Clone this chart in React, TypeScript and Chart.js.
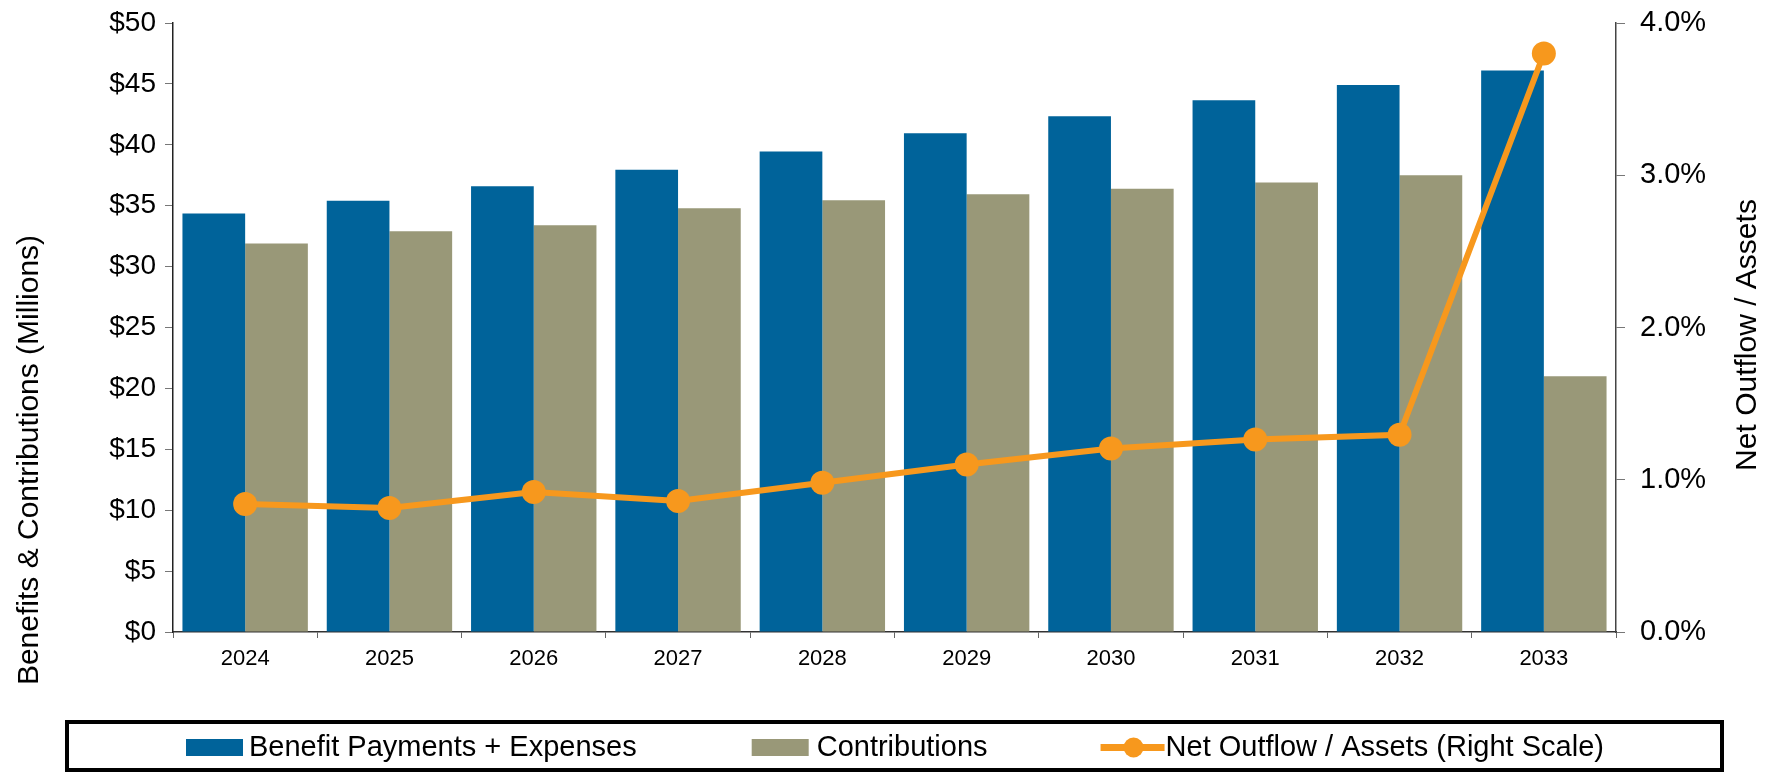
import React, { useEffect, useRef } from "react";
import { Chart, registerables } from "chart.js";

Chart.register(...registerables);

const years = ["2024", "2025", "2026", "2027", "2028", "2029", "2030", "2031", "2032", "2033"];
const benefitPayments = [34.35, 35.4, 36.6, 37.95, 39.45, 40.95, 42.35, 43.65, 44.9, 46.1];
const contributions = [31.9, 32.9, 33.4, 34.8, 35.45, 35.95, 36.4, 36.9, 37.5, 21.0];
const netOutflowPct = [0.84, 0.815, 0.92, 0.86, 0.98, 1.1, 1.205, 1.265, 1.295, 3.8];

const leftTitle = "Benefits & Contributions (Millions)";
const rightTitle = "Net Outflow / Assets";
const legendLabels = ["Benefit Payments + Expenses", "Contributions", "Net Outflow / Assets (Right Scale)"];

const BLUE = "#00639A";
const GREY = "#999878";
const ORANGE = "#F7981D";
const FONT = "'Liberation Sans', Arial, sans-serif";

const decorPlugin = {
  id: "decor",
  afterDraw(chart: any) {
    const ctx = chart.ctx as CanvasRenderingContext2D;
    ctx.save();
    // axis titles
    ctx.fillStyle = "#000";
    ctx.font = `30px ${FONT}`;
    ctx.textAlign = "center";
    ctx.textBaseline = "middle";
    ctx.save();
    ctx.translate(30, 460);
    ctx.rotate(-Math.PI / 2);
    ctx.fillText(leftTitle, 0, 0);
    ctx.restore();
    ctx.save();
    ctx.translate(1748, 335);
    ctx.rotate(-Math.PI / 2);
    ctx.fillText(rightTitle, 0, 0);
    ctx.restore();

    // legend box
    ctx.strokeStyle = "#000";
    ctx.lineWidth = 4;
    ctx.strokeRect(67, 722, 1655, 48);

    ctx.font = `29px ${FONT}`;
    ctx.textAlign = "left";
    ctx.textBaseline = "middle";
    const cy = 747.5;
    let x = 186;
    // item 1
    ctx.fillStyle = BLUE;
    ctx.fillRect(x, cy - 8.5, 57, 17);
    ctx.fillStyle = "#000";
    ctx.fillText(legendLabels[0], x + 63, cy);
    x = x + 63 + ctx.measureText(legendLabels[0]).width + 115;
    // item 2
    ctx.fillStyle = GREY;
    ctx.fillRect(x, cy - 8.5, 57, 17);
    ctx.fillStyle = "#000";
    ctx.fillText(legendLabels[1], x + 65, cy);
    x = x + 65 + ctx.measureText(legendLabels[1]).width + 113;
    // item 3
    ctx.strokeStyle = ORANGE;
    ctx.lineWidth = 7;
    ctx.beginPath();
    ctx.moveTo(x, cy);
    ctx.lineTo(x + 64, cy);
    ctx.stroke();
    ctx.fillStyle = ORANGE;
    ctx.beginPath();
    ctx.arc(x + 33, cy, 10, 0, Math.PI * 2);
    ctx.fill();
    ctx.fillStyle = "#000";
    ctx.fillText(legendLabels[2], x + 65, cy);
    ctx.restore();
  },
};

export default function App() {
  const ref = useRef<HTMLCanvasElement | null>(null);

  useEffect(() => {
    if (!ref.current) return;
    const chart = new Chart(ref.current, {
      type: "bar",
      data: {
        labels: years,
        datasets: [
          {
            type: "line",
            label: legendLabels[2],
            data: netOutflowPct,
            yAxisID: "y1",
            borderColor: ORANGE,
            backgroundColor: ORANGE,
            borderWidth: 6,
            pointRadius: 12,
            pointHoverRadius: 12,
            pointBackgroundColor: ORANGE,
            pointBorderWidth: 0,
            tension: 0,
            order: 0,
          } as any,
          {
            type: "bar",
            label: legendLabels[0],
            data: benefitPayments,
            yAxisID: "y",
            backgroundColor: BLUE,
            categoryPercentage: 0.869,
            barPercentage: 1.0,
            order: 1,
          },
          {
            type: "bar",
            label: legendLabels[1],
            data: contributions,
            yAxisID: "y",
            backgroundColor: GREY,
            categoryPercentage: 0.869,
            barPercentage: 1.0,
            order: 1,
          },
        ],
      },
      options: {
        responsive: false,
        animation: false,
        layout: { padding: { top: 23, bottom: 73, left: 0, right: 0 } },
        plugins: {
          legend: { display: false },
          tooltip: { enabled: false },
          title: { display: false },
        },
        scales: {
          x: {
            grid: {
              display: true,
              drawOnChartArea: false,
              offset: true,
              tickLength: 6,
              color: "#666",
            },
            border: { color: "#333", width: 1.5 },
            ticks: { font: { size: 22, family: FONT }, color: "#000", padding: 8, maxRotation: 0 },
            afterFit: (s: any) => {
              s.height = 68;
              s.paddingLeft = 0;
              s.paddingRight = 0;
            },
          },
          y: {
            position: "left",
            min: 0,
            max: 50,
            ticks: {
              stepSize: 5,
              font: { size: 28, family: FONT },
              color: "#000",
              padding: 9,
              callback: (v: any) => "$" + v,
            },
            grid: { display: true, drawOnChartArea: false, tickLength: 8, color: "#777" },
            border: { color: "#222", width: 1.5 },
            afterFit: (s: any) => {
              s.width = 173;
              s.paddingTop = 0;
              s.paddingBottom = 0;
            },
          },
          y1: {
            position: "right",
            min: 0,
            max: 4,
            ticks: {
              stepSize: 1,
              font: { size: 29, family: FONT },
              color: "#000",
              padding: 15,
              callback: (v: any) => Number(v).toFixed(1) + "%",
            },
            grid: { display: true, drawOnChartArea: false, tickLength: 9, color: "#777" },
            border: { color: "#444", width: 1.5 },
            afterFit: (s: any) => {
              s.width = 152;
              s.paddingTop = 0;
              s.paddingBottom = 0;
            },
          },
        },
      },
      plugins: [decorPlugin],
    });
    return () => chart.destroy();
  }, []);

  return (
    <div style={{ position: "fixed", left: 0, top: 0, width: 1768, height: 773, background: "#fff" }}>
      <canvas ref={ref} width={1768} height={773} style={{ display: "block" }} />
    </div>
  );
}
